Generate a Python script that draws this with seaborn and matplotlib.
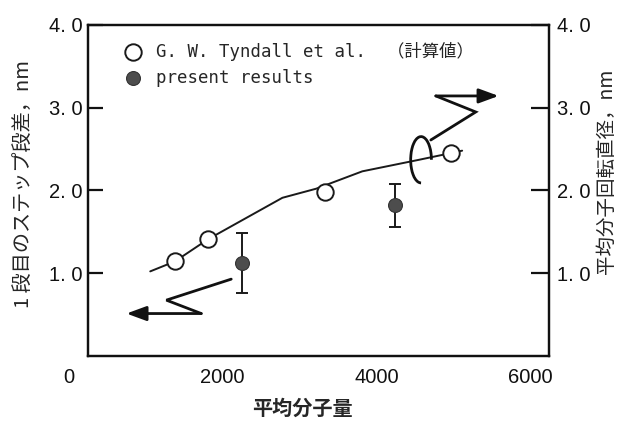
import matplotlib
matplotlib.use("Agg")
import matplotlib.pyplot as plt
import matplotlib.transforms as mtransforms
from matplotlib.patches import Arc
import numpy as np
import pandas as pd
import seaborn as sns

# ---- data ----
tyndall_mw = [1130, 1565, 3080, 4720]
tyndall_d = [1.14, 1.41, 1.98, 2.45]

present_mw = [2000, 4000]
present_h = [1.12, 1.82]
present_err_low = [0.36, 0.26]
present_err_high = [0.37, 0.26]

curve_mw = [810, 1130, 1565, 2530, 2970, 3570, 4310, 4720, 4870]
curve_d = [1.02, 1.14, 1.41, 1.91, 2.02, 2.23, 2.37, 2.45, 2.48]

xtick_vals = [0, 2000, 4000, 6000]
xtick_labels = ["0", "2000", "4000", "6000"]
ytick_vals = [1, 2, 3, 4]
ytick_labels = ["1. 0", "2. 0", "3. 0", "4. 0"]

legend_tyndall = "G. W. Tyndall et al.  （計算値）"
legend_present = "present results"
xlabel = "平均分子量"
ylabel_left = "1 段目のステップ段差，nm"
ylabel_right = "平均分子回転直径，nm"

# ---- style ----
sns.set_style("white")
plt.rcParams["font.family"] = ["Liberation Sans", "DejaVu Sans", "Noto Sans CJK JP"]
CJK = ["Noto Sans CJK JP", "DejaVu Sans"]
MONO = ["DejaVu Sans Mono", "Noto Sans CJK JP"]
INK = "#111111"

fig = plt.figure(figsize=(6.22, 4.23), dpi=100)
ax = fig.add_axes([0.1415, 0.1591, 0.7411, 0.7818])

df_t = pd.DataFrame({"mw": tyndall_mw, "d": tyndall_d})
df_p = pd.DataFrame({"mw": present_mw, "h": present_h})
df_c = pd.DataFrame({"mw": curve_mw, "d": curve_d})

sns.lineplot(data=df_c, x="mw", y="d", ax=ax, color="#1a1a1a", lw=1.4,
             sort=False, legend=False, zorder=2)
ax.errorbar(present_mw, present_h, yerr=[present_err_low, present_err_high],
            fmt="none", ecolor="#1a1a1a", elinewidth=1.4, capsize=4.5,
            capthick=1.4, zorder=2)
sns.scatterplot(data=df_t, x="mw", y="d", ax=ax, s=140, marker="o",
                facecolor="white", edgecolor="#1a1a1a", linewidth=1.4,
                zorder=4, label=legend_tyndall)
sns.scatterplot(data=df_p, x="mw", y="h", ax=ax, s=100, marker="o",
                color="#4d4d4d", edgecolor="#333333", linewidth=0.8,
                zorder=4, label=legend_present)

ax.set_xlim(0, 6000)
ax.set_ylim(0, 4)

# ---- axes styling ----
for sp in ax.spines.values():
    sp.set_linewidth(1.6)
    sp.set_color(INK)

ax.set_xticks(xtick_vals)
ax.set_xticklabels(xtick_labels)
ax.set_yticks(ytick_vals)
ax.set_yticklabels(ytick_labels)
ax.tick_params(axis="both", direction="in", length=9, width=1.6,
               labelsize=14.5, colors=INK)
ax.tick_params(axis="x", pad=9)
ax.tick_params(axis="y", pad=4, length=11)
ax.tick_params(axis="x", which="both", top=False)

offset = mtransforms.ScaledTranslation(-19 / 100, 0, fig.dpi_scale_trans)
for lab in ax.get_xticklabels():
    lab.set_transform(lab.get_transform() + offset)

ax2 = ax.twinx()
ax2.set_ylim(0, 4)
ax2.set_yticks(ytick_vals)
ax2.set_yticklabels(ytick_labels)
ax2.tick_params(axis="y", direction="in", length=13, width=1.6,
                labelsize=14.5, pad=6, colors=INK)
for sp in ax2.spines.values():
    sp.set_linewidth(1.6)
    sp.set_color(INK)

ax.set_xlabel(xlabel, family=CJK, fontsize=14.5, weight="bold")
ax.xaxis.set_label_coords(0.466, -0.158)
ax.xaxis.label.set_va("center")

ax.set_ylabel(ylabel_left, family=CJK, fontsize=14.5)
ax.yaxis.set_label_coords(-0.141, 0.52)
ax.yaxis.label.set_va("center")

ax2.set_ylabel(ylabel_right, family=CJK, fontsize=14)
ax2.yaxis.set_label_coords(1.124, 0.558)
ax2.yaxis.label.set_va("center")

# ---- legend ----
leg = ax.legend(loc="upper left", bbox_to_anchor=(0.06, 0.97), frameon=False,
                prop={"family": MONO, "size": 12.5}, handletextpad=0.7,
                labelspacing=0.45, borderaxespad=0, handlelength=1.2)

# ---- annotation arrows (zigzag) and rotation symbol ----
arrow_kw = dict(color=INK, lw=2.0, solid_joinstyle="miter", zorder=3)
head = "-|>,head_length=0.6,head_width=0.22"
ax.plot([1864, 1020, 1474], [0.926, 0.672, 0.51], **arrow_kw)
ax.annotate("", xy=(500, 0.51), xytext=(1474, 0.51),
            arrowprops=dict(arrowstyle=head, color=INK, lw=2.0,
                            shrinkA=0, shrinkB=0, mutation_scale=20))
ax.plot([4462, 5047, 4527], [2.609, 2.948, 3.142], **arrow_kw)
ax.annotate("", xy=(5345, 3.142), xytext=(4527, 3.142),
            arrowprops=dict(arrowstyle=head, color=INK, lw=2.0,
                            shrinkA=0, shrinkB=0, mutation_scale=20))
ax.add_patch(Arc((4335, 2.37), 270, 0.56, theta1=0, theta2=282,
                 color=INK, lw=2.0, zorder=3))

fig.savefig("out.png", dpi=100)
